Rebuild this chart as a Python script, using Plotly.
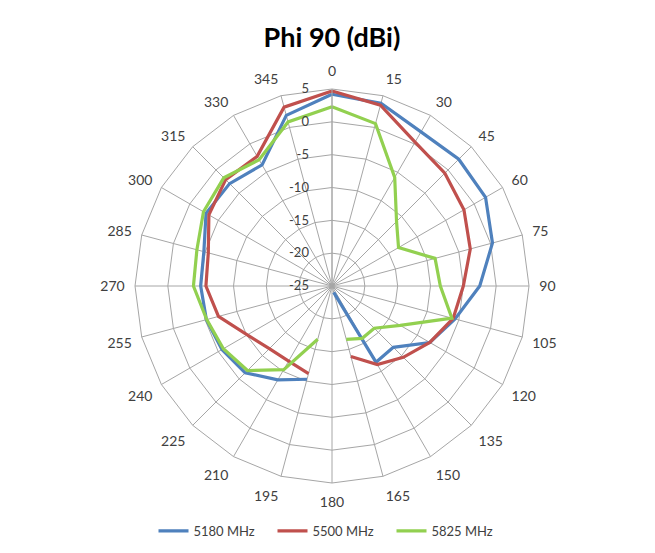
import plotly.graph_objects as go

angles = [str(a) for a in range(0, 360, 15)]

s5180 = [4.2, 3.8, 2.1, 2.3, 2.0, 0.3, -2.5, -5.6, -7.8, -11.8, -11.6, -24.0,
         None, -10.3, -8.5, -6.3, -5.65, -5.2, -5.0, -4.8, -2.85, -2.95, -3.7, 1.9]
s5500 = [4.7, 3.5, 0.3, -0.7, -1.8, -3.2, -5.0, -5.9, -7.8, -9.65, -11.2, -13.9,
         None, -11.2, -11.8, -11.5, -10.1, -7.1, -5.8, -5.5, -3.35, -2.1, -2.2, 3.2]
s5825 = [2.3, 0.6, -5.9, -11.1, -13.3, -8.75, -8.5, -6.1, -13.0, -15.9, -15.8, -16.6,
         None, -16.6, -10.3, -6.8, -5.9, -5.25, -3.9, -3.7, -2.4, -1.7, -2.8, 0.86]

series_names = ["5180 MHz", "5500 MHz", "5825 MHz"]
colors = ["#4F81BD", "#C0504D", "#92D050"]
radial_ticks = [-25, -20, -15, -10, -5, 0, 5]
radial_labels = ["-25", "-20", "-15", "-10", "-5", "0", "5"]

fig = go.Figure()
for name, vals, col in zip(series_names, [s5180, s5500, s5825], colors):
    fig.add_trace(go.Scatterpolar(
        r=vals + [vals[0]],
        theta=angles + [angles[0]],
        mode="lines",
        name=name,
        line=dict(color=col, width=3.2),
        connectgaps=False,
    ))

# page body has an 8px margin, so compensate
OFF = 8
W, H = 655, 553
cx, cy, R = 332 - OFF, 286 - OFF, 197
fig.update_layout(
    width=W, height=H,
    margin=dict(l=0, r=0, t=0, b=0),
    paper_bgcolor="white",
    plot_bgcolor="white",
    font=dict(family="Lato, Calibri, sans-serif", size=13, color="#404040"),
    title=dict(text="<b>Phi 90 (dBi)</b>", x=cx / W, xanchor="center",
               y=1 - (38 - OFF) / H, yanchor="middle",
               font=dict(family="Lato, Calibri, sans-serif", size=27, color="black")),
    polar=dict(
        domain=dict(x=[(cx - R) / W, (cx + R) / W],
                    y=[1 - (cy + R) / H, 1 - (cy - R) / H]),
        gridshape="linear",
        bgcolor="white",
        angularaxis=dict(
            type="category",
            categoryorder="array",
            categoryarray=angles,
            direction="clockwise",
            rotation=90,
            showgrid=True,
            gridcolor="#A6A6A6",
            gridwidth=1,
            showline=True,
            linecolor="#A6A6A6",
            linewidth=1,
            ticks="outside",
            ticklen=7,
            tickcolor="rgba(0,0,0,0)",
            tickfont=dict(size=14, color="#404040"),
        ),
        radialaxis=dict(
            range=[-25, 5],
            tickvals=radial_ticks,
            ticktext=radial_labels,
            showticklabels=True,
            angle=90,
            tickangle=90,
            side="counterclockwise",
            showgrid=True,
            gridcolor="#A6A6A6",
            gridwidth=1,
            showline=True,
            linecolor="#A6A6A6",
            linewidth=1,
            ticks="outside",
            ticklen=18,
            tickcolor="rgba(0,0,0,0)",
            tickfont=dict(size=13, color="#404040"),
        ),
    ),
    legend=dict(
        orientation="h",
        x=cx / W, xanchor="center",
        y=1 - (531 - OFF) / H, yanchor="middle",
        font=dict(size=13, color="#404040"),
        itemwidth=30,
        entrywidth=74,
    ),
)

fig.write_html("out.html")
